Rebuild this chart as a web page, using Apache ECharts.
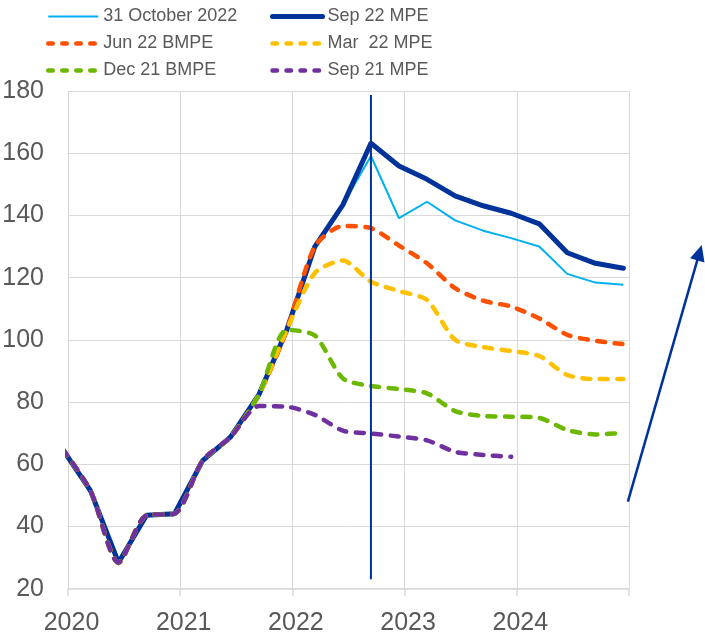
<!DOCTYPE html>
<html><head><meta charset="utf-8">
<script src="https://cdn.jsdelivr.net/npm/echarts@6/dist/echarts.min.js"></script>
<style>html,body{margin:0;padding:0;background:#fff}#c{width:705px;height:633px}</style>
</head><body><div id="c"></div><script>
// quarterly observation dates (decimal years)
const quarters = [2019.95,2020.2,2020.45,2020.7,2020.95,2021.2,2021.45,2021.7,2021.95,2022.2,2022.45,2022.7,2022.95,2023.2,2023.45,2023.7,2023.95,2024.2,2024.45,2024.7,2024.95];
const oct22 = [65,51.5,28.4,43.6,44.1,61.2,68.8,82.3,103.2,130.0,143.4,159.1,139.1,144.4,138.4,135.1,132.7,130.0,121.2,118.4,117.7];
const sep22MPE = [65,51.5,28.4,43.6,44.1,61.2,68.8,82.3,103.2,130.0,143.4,163.2,155.9,151.6,146.3,143.1,140.7,137.3,128.0,124.6,123.0];
const jun22BMPE = [65,51.5,28.4,43.6,44.1,61.2,68.8,82.3,103.2,130.0,136.6,135.9,130.3,124.6,116.6,112.6,110.7,106.9,101.6,99.7,98.6];
const mar22MPE = [65,51.5,28.4,43.6,44.1,61.2,68.8,82.3,103.2,121.5,125.5,118.7,115.7,112.8,100.0,97.7,96.4,94.8,88.7,87.4,87.4];
const dec21BMPE = [65,51.5,28.4,43.6,44.1,61.2,68.8,82.3,103.2,101.4,87.6,85.2,84.2,82.8,77.1,75.5,75.3,74.9,71.0,69.6,70.1];
const sep21MPE = [65,51.5,28.4,43.6,44.1,61.2,68.8,78.7,78.5,75.9,70.8,69.9,68.9,67.7,64.0,63.0,62.4];
const seriesNames = ['31 October 2022','Sep 22 MPE','Jun 22 BMPE','Mar  22 MPE','Dec 21 BMPE','Sep 21 MPE'];
const xTickLabels = ['2020','2021','2022','2023','2024'];
const yTickLabels = ['20','40','60','80','100','120','140','160','180'];
// vertical reference line (date, from value, to value)
const refLine = [[2022.7, 23], [2022.7, 178.7]];
// annotation arrow (start, tip) in data units
const arrowPts = [[2024.99, 48], [2025.648, 130.5]];

const pair = (vals) => vals.map((v, i) => [quarters[i], v]);
const txt = '#595959';
const dash = {type: [8, 9.5], width: 4.5, cap: 'round', join: 'round'};
const dashed = (name, vals, color) => ({
  name, type: 'line', data: pair(vals), symbol: 'none', smooth: 0.25,
  lineStyle: Object.assign({color}, dash), itemStyle: {color}
});
const legendDash = {type: [4.5, 9.5], width: 4.5, cap: 'round'};
const legendText = {fontFamily: 'Liberation Sans, Arial, sans-serif', fontSize: 18, lineHeight: 20, color: txt};
const legendBase = {top: 6.5, orient: 'vertical', padding: 0, itemWidth: 50, itemHeight: 14, itemGap: 7,
  itemStyle: {opacity: 0}, lineStyle: {width: 'inherit'}, textStyle: legendText};

const chart = echarts.init(document.getElementById('c'), null, {renderer: 'canvas'});
chart.setOption({
  animation: false,
  backgroundColor: '#fff',
  textStyle: {fontFamily: 'Liberation Sans, Arial, sans-serif'},
  grid: {left: 68, right: 76, top: 91, bottom: 44.3, containLabel: false, outerBoundsMode: 'none'},
  legend: [
    Object.assign({left: 46, data: [
      {name: seriesNames[0]},
      {name: seriesNames[2], lineStyle: legendDash},
      {name: seriesNames[4], lineStyle: legendDash}]}, legendBase),
    Object.assign({left: 270, data: [
      {name: seriesNames[1]},
      {name: seriesNames[3], lineStyle: legendDash},
      {name: seriesNames[5], lineStyle: legendDash}]}, legendBase)
  ],
  xAxis: {
    type: 'value', min: 2020, max: 2025, interval: 1,
    axisLine: {show: true, lineStyle: {color: '#D9D9D9', width: 1.5}},
    axisTick: {show: true, length: 7, lineStyle: {color: '#D9D9D9', width: 1.5}},
    splitLine: {show: true, lineStyle: {color: '#D9D9D9', width: 1}},
    axisLabel: {fontSize: 25, color: txt, margin: 22, padding: [0,0,0,7],
      formatter: v => xTickLabels.includes(String(v)) ? String(v) : ''}
  },
  yAxis: {
    type: 'value', min: 20, max: 180, interval: 20,
    axisLine: {show: false}, axisTick: {show: false},
    splitLine: {show: true, lineStyle: {color: '#D9D9D9', width: 1}},
    axisLabel: {fontSize: 25, color: txt, margin: 24,
      formatter: v => yTickLabels.includes(String(v)) ? String(v) : ''}
  },
  series: [
    {name: seriesNames[0], type: 'line', data: pair(oct22), symbol: 'none',
     lineStyle: {color: '#00B0F0', width: 2}, itemStyle: {color: '#00B0F0'}},
    {name: seriesNames[1], type: 'line', data: pair(sep22MPE), symbol: 'none',
     lineStyle: {color: '#003399', width: 5, join: 'round', cap: 'round'}, itemStyle: {color: '#003399'}},
    dashed(seriesNames[2], jun22BMPE, '#FF5000'),
    dashed(seriesNames[3], mar22MPE, '#FFC000'),
    dashed(seriesNames[4], dec21BMPE, '#6CB800'),
    dashed(seriesNames[5], sep21MPE, '#7030A0'),
    {name: 'ref', type: 'line', data: refLine, symbol: 'none', silent: true,
     lineStyle: {color: '#003399', width: 2}}
  ]
});

// arrow annotation placed through the axes' scales
const p0 = chart.convertToPixel({gridIndex: 0}, arrowPts[0]);
const p1 = chart.convertToPixel({gridIndex: 0}, arrowPts[1]);
const dx = p1[0] - p0[0], dy = p1[1] - p0[1];
const len = Math.sqrt(dx * dx + dy * dy);
const ux = dx / len, uy = dy / len;
const headL = 16, headW = 7.5;
const bx = p1[0] - ux * headL, by = p1[1] - uy * headL;
chart.setOption({
  graphic: [
    {type: 'line', silent: true, shape: {x1: p0[0], y1: p0[1], x2: bx + ux * 2, y2: by + uy * 2},
     style: {stroke: '#003399', lineWidth: 2.5}},
    {type: 'polygon', silent: true,
     shape: {points: [[p1[0], p1[1]], [bx - uy * headW, by + ux * headW], [bx + uy * headW, by - ux * headW]]},
     style: {fill: '#003399'}}
  ]
});
</script></body></html>
